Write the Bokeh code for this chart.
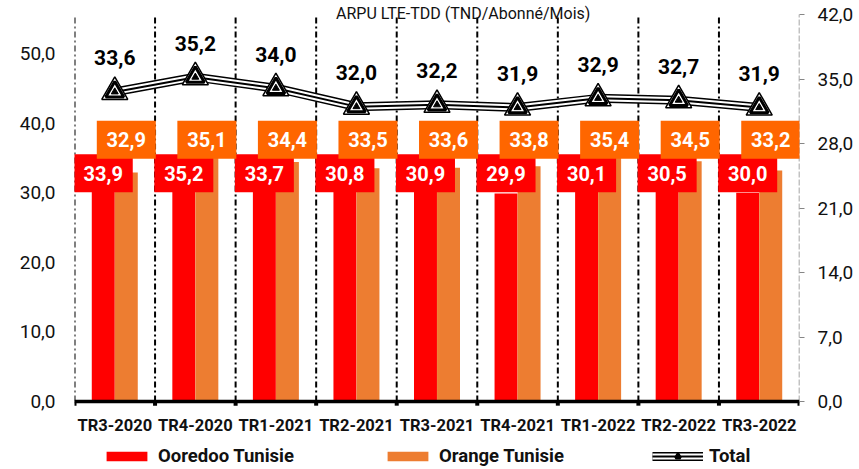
from bokeh.plotting import figure
from bokeh.models import (ColumnDataSource, FactorRange, Range1d, LinearAxis, FixedTicker,
                          CustomJSTickFormatter, Legend, LegendItem, Label, Span)
from bokeh.transform import dodge
from bokeh.core.properties import value
from bokeh.embed import file_html
from bokeh.resources import INLINE

# ---------------- data ----------------
categories = ["TR3-2020", "TR4-2020", "TR1-2021", "TR2-2021", "TR3-2021",
              "TR4-2021", "TR1-2022", "TR2-2022", "TR3-2022"]
ooredoo = [33.9, 35.2, 33.7, 30.8, 30.9, 29.9, 30.1, 30.5, 30.0]
orange = [32.9, 35.1, 34.4, 33.5, 33.6, 33.8, 35.4, 34.5, 33.2]
total = [33.6, 35.2, 34.0, 32.0, 32.2, 31.9, 32.9, 32.7, 31.9]
left_ticks = [0, 10, 20, 30, 40, 50]
right_ticks = [0, 7, 14, 21, 28, 35, 42]
series_names = ["Ooredoo Tunisie", "Orange Tunisie", "Total"]
title_text = "ARPU LTE-TDD  (TND/Abonné/Mois)"

# ---------------- style / layout ----------------
W, H = 859, 469
FRAME_TOP_PX, AXIS_PX = 14, 401          # plot area top and x-axis baseline (px)
LEFT_MAX, RIGHT_MAX = 55.6, 42.0          # axis values at plot-area top
lpx = (AXIS_PX - FRAME_TOP_PX) / LEFT_MAX
rpx = (AXIS_PX - FRAME_TOP_PX) / RIGHT_MAX
left_range = Range1d(-(H - AXIS_PX) / lpx, LEFT_MAX + FRAME_TOP_PX / lpx)
right_range = Range1d(-(H - AXIS_PX) / rpx, RIGHT_MAX + FRAME_TOP_PX / rpx)

RED = "#FF0000"
ORANGE_BAR = "#ED7D31"
ORANGE_LBL = "#FF6600"
FONT = "Roboto"
INK = "#111111"
BAR_W = 0.285
OFF = 0.143
RED_LBL_Y = 32.8      # label rows (left-axis units)
ORANGE_LBL_Y = 37.6


def fmt(v):
    return f"{v:.1f}".replace(".", ",")


src = ColumnDataSource(dict(
    cat=categories, ooredoo=ooredoo, orange=orange, total=total,
    ooredoo_lbl=[fmt(v) for v in ooredoo],
    orange_lbl=[fmt(v) for v in orange],
    total_lbl=[fmt(v) for v in total],
))
last_src = ColumnDataSource(dict(cat=[categories[-1]]))

p = figure(x_range=FactorRange(factors=categories), y_range=left_range,
           width=W, height=H, output_backend="svg", toolbar_location=None,
           x_axis_location=None,
           min_border_left=74, min_border_right=60, min_border_top=0, min_border_bottom=0)
p.extra_y_ranges = {"right": right_range}
p.outline_line_color = None
p.xgrid.visible = False
p.ygrid.visible = False
p.background_fill_color = "white"

# category separators (dash-dot)
sep_x = dodge("cat", -0.5, range=p.x_range)
end_x = dodge("cat", 0.5, range=p.x_range)
p.segment(x0=sep_x, y0=0, x1=sep_x, y1=LEFT_MAX, source=src,
          line_color="black", line_width=2, line_dash="6 3 2 3")

# bars
r_red = p.vbar(x=dodge("cat", -OFF, range=p.x_range), top="ooredoo", width=BAR_W,
               source=src, fill_color=RED, line_color=None)
r_orange = p.vbar(x=dodge("cat", OFF, range=p.x_range), top="orange", width=BAR_W,
                  source=src, fill_color=ORANGE_BAR, line_color=None)

# x axis line, boundary ticks, right axis line
p.add_layout(Span(location=0, dimension="width", line_color="black", line_width=3.5))
p.segment(x0=sep_x, y0=0, x1=sep_x, y1=-0.6, source=src, line_color="black", line_width=4)
p.segment(x0=end_x, y0=0, x1=end_x, y1=-0.6, source=last_src, line_color="black", line_width=4)
p.segment(x0=end_x, y0=0, x1=end_x, y1=RIGHT_MAX, source=last_src, y_range_name="right",
          line_color="#868686", line_width=1.5, line_dash="6 2")

# category labels
p.text(x="cat", y=0, text="cat", source=src, y_offset=24, text_color=INK,
       text_font=value(FONT), text_font_style="bold", text_font_size="16.5px",
       text_align="center", text_baseline="middle")

# data label boxes
p.rect(x=dodge("cat", -OFF, range=p.x_range), y=RED_LBL_Y, width=59, height=38,
       width_units="screen", height_units="screen", source=src,
       fill_color=RED, line_color=None)
p.text(x=dodge("cat", -OFF, range=p.x_range), y=RED_LBL_Y, text="ooredoo_lbl", source=src,
       text_color="white", text_font=value(FONT), text_font_style="bold",
       text_font_size="20px", text_align="center", text_baseline="middle")
p.rect(x=dodge("cat", OFF, range=p.x_range), y=ORANGE_LBL_Y, width=59, height=38,
       width_units="screen", height_units="screen", source=src,
       fill_color=ORANGE_LBL, line_color=None)
p.text(x=dodge("cat", OFF, range=p.x_range), y=ORANGE_LBL_Y, text="orange_lbl", source=src,
       text_color="white", text_font=value(FONT), text_font_style="bold",
       text_font_size="20px", text_align="center", text_baseline="middle")

# total line (compound black/white/black)
l1 = p.line(x="cat", y="total", source=src, y_range_name="right", line_color="black", line_width=9)
l2 = p.line(x="cat", y="total", source=src, y_range_name="right", line_color="white", line_width=6)
l3 = p.line(x="cat", y="total", source=src, y_range_name="right", line_color="black", line_width=2)
m1 = p.scatter(x="cat", y="total", source=src, y_range_name="right", marker="triangle",
               size=26, fill_color="white", line_color="black", line_width=1.5)
m2 = p.scatter(x="cat", y="total", source=src, y_range_name="right", marker="triangle",
               size=18, fill_color="white", line_color="black", line_width=3)
m3 = p.scatter(x="cat", y="total", source=src, y_range_name="right", marker="triangle",
               size=7, fill_color="black", line_color="black", line_width=1)
p.text(x="cat", y="total", text="total_lbl", source=src, y_range_name="right",
       y_offset=-34, text_color="black", text_font=value(FONT), text_font_style="bold",
       text_font_size="21px", text_align="center", text_baseline="middle")

# axes
ya = p.yaxis[0]
ya.ticker = FixedTicker(ticks=left_ticks)
ya.formatter = CustomJSTickFormatter(code="return tick.toFixed(1).replace('.', ',');")
ya.axis_line_color = None
ya.major_tick_line_color = None
ya.major_tick_out = 0
ya.minor_tick_line_color = None
ya.major_label_standoff = 19
ya.major_label_text_font = FONT
ya.major_label_text_font_size = "19px"
ya.major_label_text_color = INK

ra = LinearAxis(y_range_name="right", ticker=FixedTicker(ticks=right_ticks),
                formatter=CustomJSTickFormatter(code="return tick.toFixed(1).replace('.', ',');"))
ra.axis_line_color = None
ra.major_tick_line_color = "#868686"
ra.major_tick_in = 0
ra.major_tick_out = 5
ra.minor_tick_line_color = None
ra.major_label_standoff = 13
ra.major_label_text_font = FONT
ra.major_label_text_font_size = "19px"
ra.major_label_text_color = INK
p.add_layout(ra, "right")

# legend
legend = Legend(items=[
    LegendItem(label=series_names[0], renderers=[r_red]),
    LegendItem(label=series_names[1], renderers=[r_orange]),
    LegendItem(label=series_names[2], renderers=[l1, l2, l3, m1, m2, m3]),
], orientation="horizontal", location=(27, 2), glyph_width=51, glyph_height=12,
    label_height=12, label_standoff=6, spacing=88, padding=0, margin=0,
    border_line_color=None, background_fill_alpha=0,
    label_text_font=FONT, label_text_font_style="bold", label_text_font_size="18.5px",
    label_text_color=INK)
p.add_layout(legend)

# title
p.add_layout(Label(x=4.85, y=LEFT_MAX, y_offset=1, text=title_text, text_align="center",
                   text_baseline="alphabetic", text_font=FONT, text_font_size="16px",
                   text_color=INK))

open("out.html", "w").write(file_html(p, INLINE))
